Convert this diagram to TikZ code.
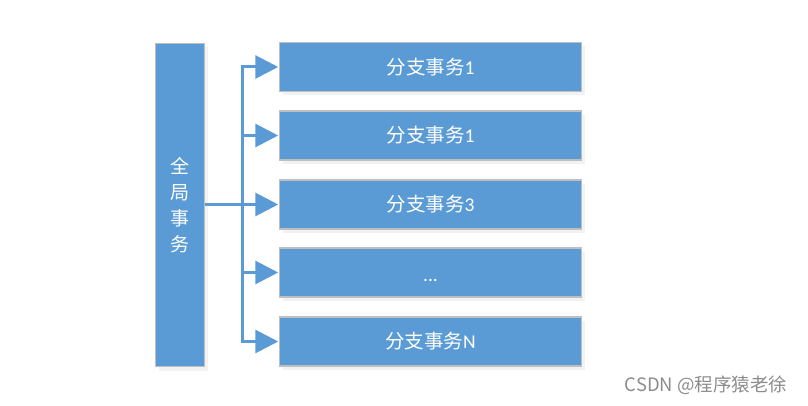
\documentclass[tikz,border=0pt]{standalone}
\usepackage{fontspec}
\setmainfont{Carlito}
\newfontfamily\cjk{Noto Sans CJK SC}
\usetikzlibrary{arrows.meta,shadows,calc}
\definecolor{boxblue}{HTML}{5B9BD5}
\definecolor{boxedge}{HTML}{BFBFBF}
\definecolor{wm}{HTML}{8C8C8C}
\tikzset{
  bluebox/.style={fill=boxblue, draw=boxedge, line width=1.5pt, inner sep=0pt,
    text=white, font=\fontsize{19.5}{22}\selectfont,
    drop shadow={opacity=0.10, shadow xshift=3pt, shadow yshift=-4pt}},
  branch/.style={bluebox, minimum width=302pt, minimum height=49pt},
  link/.style={draw=boxblue, line width=3pt},
  arr/.style={link, -{Triangle[length=23pt,width=23pt]}, shorten >=0.5pt},
}
\begin{document}
\begin{tikzpicture}[x=1pt,y=-1pt]
\useasboundingbox (0,0) rectangle (808,406);
\node[bluebox, minimum width=49pt, minimum height=323pt, align=center,
  font=\fontsize{19}{26}\selectfont\cjk] (L) at (180,205) {全\\局\\事\\务};
\node[branch] (b1) at (430.5,67) {{\cjk 分支事务}1};
\node[branch] (b2) at (430.5,135.5) {{\cjk 分支事务}1};
\node[branch] (b3) at (430.5,204.5) {{\cjk 分支事务}3};
\node[branch] (b4) at (430.5,272.5) {\raisebox{-9pt}[0pt][0pt]{...}};
\node[branch] (b5) at (430.5,341.5) {{\cjk 分支事务}N};
\coordinate (t1) at (242,67);
\coordinate (t2) at (242,135.5);
\coordinate (t3) at (242,204.5);
\coordinate (t4) at (242,272.5);
\coordinate (t5) at (242,341.5);
\draw[link, line cap=rect] (t1) -- (t5);
\draw[arr] (t1) -- (b1.west);
\draw[arr] (t2) -- (b2.west);
\draw[arr] (L.east |- t3) -- (b3.west);
\draw[arr] (t4) -- (b4.west);
\draw[arr] (t5) -- (b5.west);
\node[text=wm, font=\fontsize{18.5}{20}\selectfont\cjk, anchor=east] (wmk) at (791,385) {CSDN @程序猿老徐};
\end{tikzpicture}
\end{document}
